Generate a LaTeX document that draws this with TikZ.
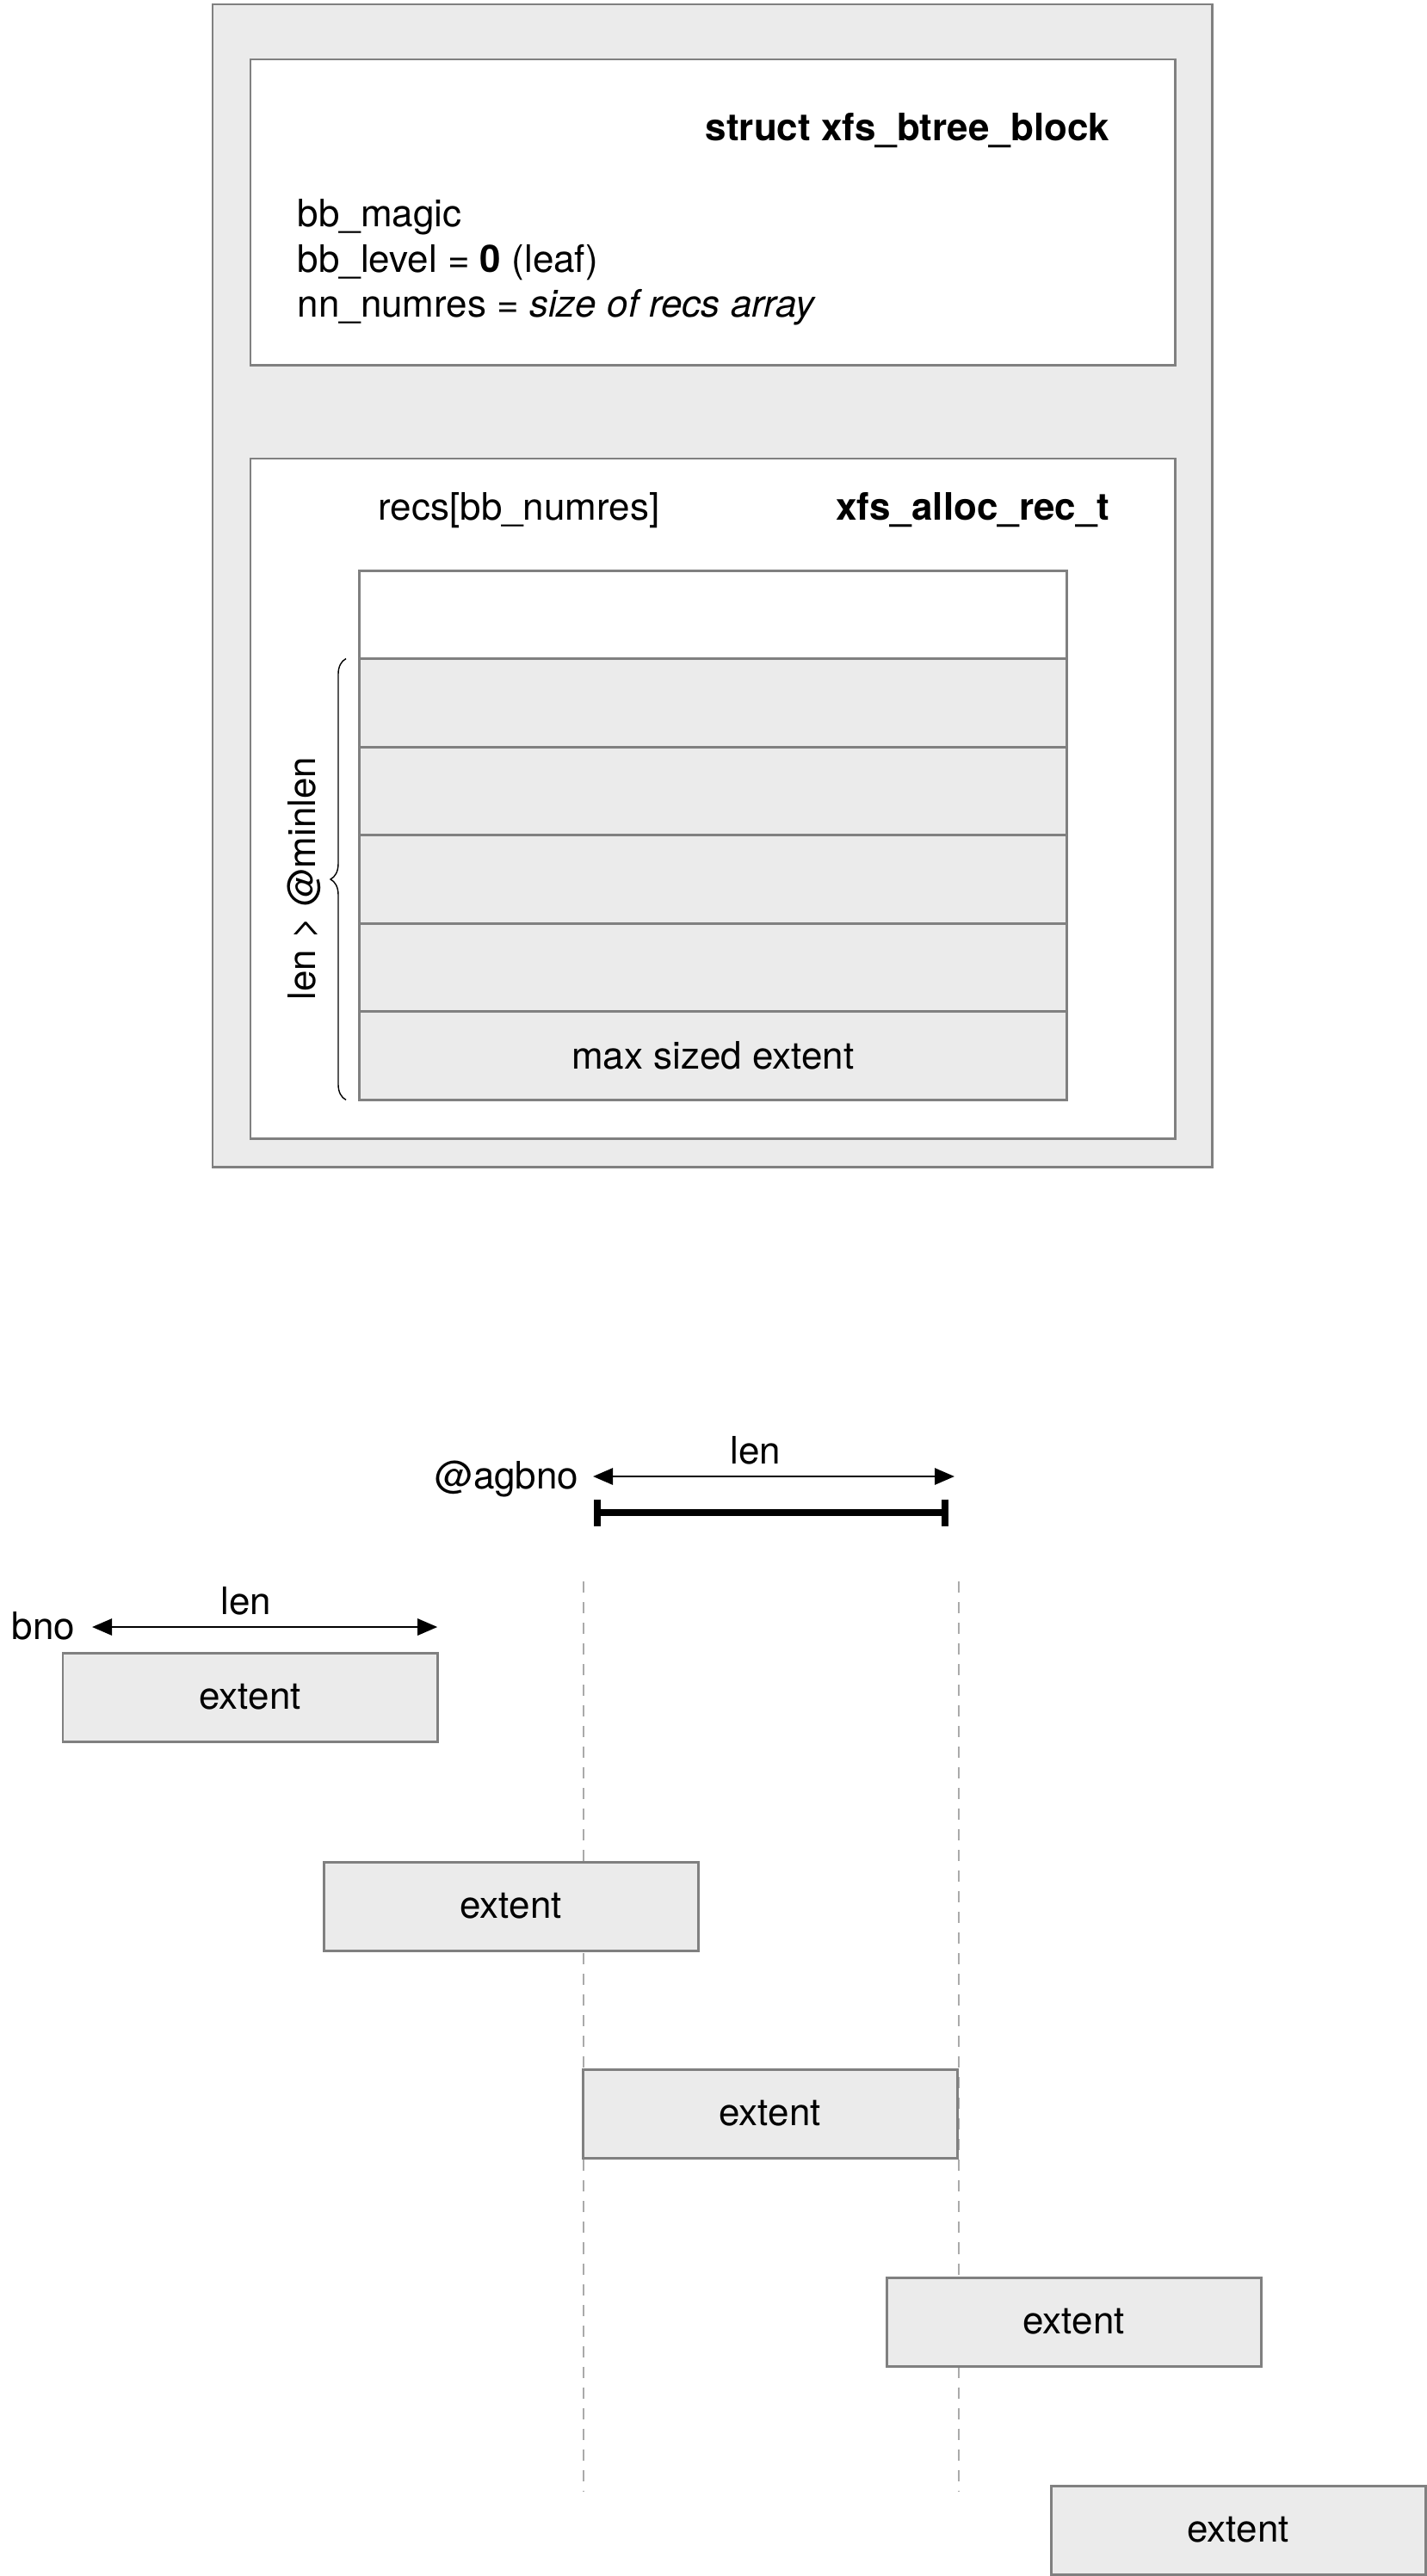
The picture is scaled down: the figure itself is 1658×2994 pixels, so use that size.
\documentclass[tikz,border=0pt]{standalone}
\usepackage{fontspec}
\setmainfont{TeX Gyre Heros}
\usetikzlibrary{positioning, arrows.meta, decorations.pathreplacing}
\definecolor{bgray}{RGB}{128,128,128}
\definecolor{bfill}{RGB}{235,235,235}
\definecolor{dgray}{RGB}{170,170,170}

\begin{document}
\begin{tikzpicture}[
  x=0.01cm, y=-0.01cm,
  font=\fontsize{12.5}{15}\selectfont,
  frame/.style={draw=bgray,line width=0.85pt,inner sep=0pt,outer sep=0pt,anchor=north west},
  rec/.style={draw=bgray,fill=bfill,line width=0.85pt,minimum width=8.22cm,
              minimum height=1.025cm,inner sep=0pt,outer sep=0pt},
  ext/.style={draw=bgray,fill=bfill,line width=0.85pt,minimum width=4.35cm,
              minimum height=1.03cm,inner sep=0pt,outer sep=0pt,anchor=north west},
  lbl/.style={inner sep=0pt},
  dim/.style={{Triangle[length=0.23cm,width=0.19cm]}-{Triangle[length=0.23cm,width=0.19cm]},line width=0.8pt},
  guide/.style={draw=dgray,line width=0.8pt,dash pattern=on 0.13cm off 0.11cm}
]
  \useasboundingbox (0,0) rectangle (1658,2994);

  % btree block
  \node[frame,fill=bfill,minimum width=11.61cm,minimum height=13.51cm] (block) at (247,5) {};
  \node[frame,fill=white,minimum width=10.74cm,minimum height=3.55cm] (hdr) at (291,69) {};
  \node[frame,fill=white,minimum width=10.74cm,minimum height=7.9cm] (recs) at (291,533) {};

  \node[lbl,anchor=base east] (title) at (1290,163) {\textbf{struct xfs\_btree\_block}};
  \node[lbl,anchor=base west] (magic) at (345,264) {bb\_magic};
  \node[lbl,anchor=base west] (level) at (345,316) {bb\_level = \textbf{0} (leaf)};
  \node[lbl,anchor=base west] (numres) at (345,368) {nn\_numres = \textit{size of recs array}};

  \node[lbl,anchor=base west] (recname) at (439,604) {recs[bb\_numres]};
  \node[lbl,anchor=base east] (rectype) at (1290,604) {\textbf{xfs\_alloc\_rec\_t}};

  % records array
  \node[rec,fill=white,anchor=north west] (r0) at (417,663) {};
  \foreach \i [count=\j from 0] in {1,...,5}
    \node[rec,below=0pt of r\j] (r\i) {};
  \node[lbl] (maxext) at (r5.center) {max sized extent};

  \draw[decorate,decoration={brace,amplitude=0.18cm},line width=0.4pt]
    ([xshift=-0.15cm]r5.south west) -- ([xshift=-0.15cm]r1.north west);
  \node[lbl,rotate=90] (minlen) at (353,1021) {len > @minlen};

  % search range
  \node[lbl,anchor=base east] (agbno) at (673,1730) {@agbno};
  \coordinate (al) at (689,1716);
  \coordinate (ar) at (1109,1716);
  \draw[dim] (al) -- node[lbl,pos=0.45,above=0.12cm] (toplen) {len} (ar);
  \coordinate (bl) at (690,1758);
  \coordinate (br) at (1102,1758);
  \draw[line width=2.3pt,{Bar[width=0.31cm]}-{Bar[width=0.31cm]}] (bl) -- (br);

  \coordinate (gl) at (678,1838);
  \coordinate (gr) at (1114,1838);
  \draw[guide] (gl) -- ++(0,1058);
  \draw[guide] (gr) -- ++(0,1058);

  % extents
  \foreach \x/\y [count=\n] in {73/1921,376/2164,677/2405,1030/2647,1221/2889}
    \node[ext] (ext\n) at (\x,\y) {extent};

  \node[lbl,anchor=base east] (bno) at (88,1905) {bno};
  \coordinate (el) at (107,1891);
  \coordinate (er) at (ext1.north east |- el);
  \draw[dim] (el) -- node[lbl,pos=0.445,above=0.12cm] (lowlen) {len} (er);
\end{tikzpicture}
\end{document}
